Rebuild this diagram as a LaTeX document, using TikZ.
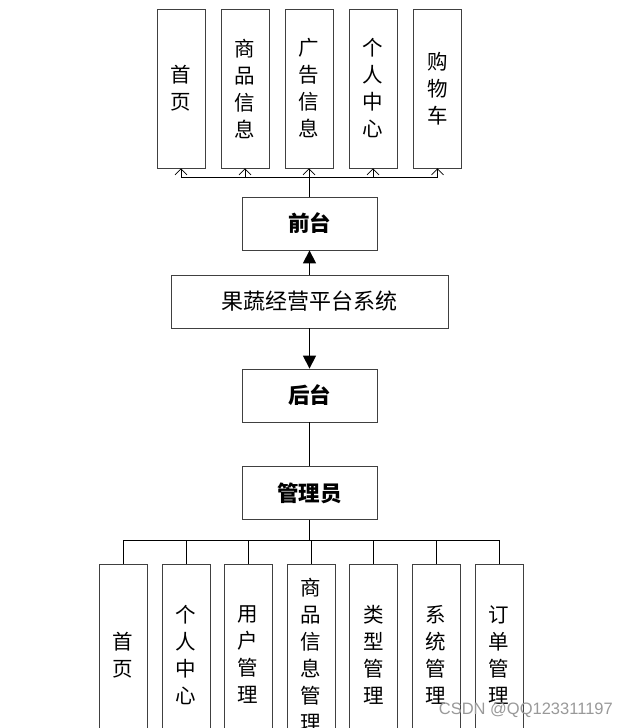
\documentclass[tikz,border=0pt]{standalone}
\usepackage{fontspec}
\newfontfamily\cjk{Noto Sans CJK SC}
\setsansfont{Liberation Sans}
\usetikzlibrary{arrows.meta}
\begin{document}
\begin{tikzpicture}[x=1pt,y=-1pt,
  box/.style={draw=black!75,line width=0.8pt,fill=white,inner sep=0pt,align=center},
  vbox/.style={box,minimum width=48pt,font=\cjk\fontsize{20.5}{27}\selectfont},
  hbox/.style={box,minimum width=135pt,minimum height=53pt,font=\cjk\bfseries\fontsize{21.5}{24}\selectfont},
  conn/.style={draw=black,line width=0.8pt},
  openarr/.style={conn,-{Straight Barb[length=6pt,width=12pt,line width=0.7pt]}},
  bigarr/.style={draw=black,line width=1.3pt,-{Triangle[length=13pt,width=13pt]}}]
\useasboundingbox (0,0) rectangle (628,728);
\clip (0,0) rectangle (628,728);
% top boxes
\node[vbox,minimum height=159pt] (t1) at (181,88.5) {首\\页};
\node[vbox,minimum height=159pt] (t2) at (245,88.5) {商\\品\\信\\息};
\node[vbox,minimum height=159pt] (t3) at (309,88.5) {广\\告\\信\\息};
\node[vbox,minimum height=159pt] (t4) at (373,88.5) {个\\人\\中\\心};
\node[vbox,minimum height=159pt] (t5) at (437.5,88.5) {购\\物\\车};
% middle
\node[hbox] (qt) at (309.5,223.5) {前台};
\node[box,minimum width=277pt,minimum height=53pt,font=\cjk\fontsize{22}{24}\selectfont] (sys) at (309.5,301.5) {果蔬经营平台系统};
\node[hbox] (ht) at (309.5,395.5) {后台};
\node[hbox] (gly) at (309.5,493) {管理员};
% bottom boxes
\node[vbox,minimum height=182pt] (b1) at (123,655) {首\\页};
\node[vbox,minimum height=182pt] (b2) at (186,655) {个\\人\\中\\心};
\node[vbox,minimum height=182pt] (b3) at (248,655) {用\\户\\管\\理};
\node[vbox,minimum height=182pt] (b4) at (311,655) {商\\品\\信\\息\\管\\理};
\node[vbox,minimum height=182pt] (b5) at (373.5,655) {类\\型\\管\\理};
\node[vbox,minimum height=182pt] (b6) at (436,655) {系\\统\\管\\理};
\node[vbox,minimum height=182pt] (b7) at (499,655) {订\\单\\管\\理};
% top connectors
\draw[conn] (qt.north) -- ++(0,-19.5) coordinate (tj);
\foreach \n in {t1,t2,t3,t4,t5} \draw[openarr] (tj) -| (\n.south);
% middle arrows
\draw[bigarr] (sys.north) -- (qt.south);
\draw[bigarr] (sys.south) -- (ht.north);
\draw[conn] (ht.south) -- (gly.north);
% bottom connectors
\draw[conn] (gly.south) -- ++(0,20) coordinate (bj);
\foreach \n in {b1,b2,b3,b4,b5,b6,b7} \draw[conn] (bj) -| (\n.north);
% watermark
\node[font=\sffamily\fontsize{16.5}{18}\selectfont,text=black!40,inner sep=0pt,anchor=east] (wm) at (613,710) {CSDN @QQ123311197};
\end{tikzpicture}
\end{document}
